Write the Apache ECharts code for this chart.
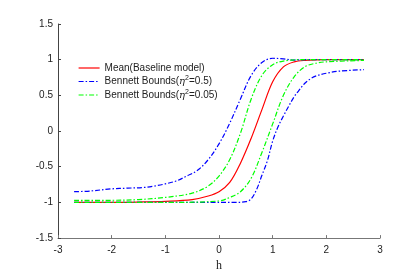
<!DOCTYPE html>
<html>
<head>
<meta charset="utf-8">
<script src="https://cdn.jsdelivr.net/npm/echarts@6/dist/echarts.min.js"></script>
<style>
html,body{margin:0;padding:0;background:#fff;}
#chart{width:415px;height:277px;}
</style>
</head>
<body>
<div id="chart"></div>
<script>
// ---- data ----
var seriesNames = ['Mean(Baseline model)', 'Bennett Bounds(η2=0.5)', 'Bennett Bounds(η2=0.05)'];

var meanX = [-2.7, -2, -1.5, -1, -0.5, -0.2, 0, 0.2, 0.4, 0.6, 0.8, 1.0, 1.2, 1.4, 1.6, 2, 2.7];
var meanY = [-1.0, -1.0, -0.995, -0.985, -0.96, -0.91, -0.85, -0.72, -0.45, -0.1, 0.3, 0.69, 0.9, 0.97, 0.99, 1.0, 1.0];

var blueUpX = [-2.7, -2.4, -2.0, -1.7, -1.4, -1.2, -1.0, -0.8, -0.6, -0.4, -0.2, 0, 0.2, 0.4, 0.6, 0.8, 1.0, 1.2, 1.4, 1.6, 2.0, 2.7];
var blueUpY = [-0.85, -0.84, -0.81, -0.80, -0.79, -0.77, -0.74, -0.70, -0.63, -0.55, -0.40, -0.18, 0.11, 0.45, 0.78, 0.96, 1.02, 1.01, 0.995, 1.0, 1.0, 1.0];

var blueLowX = [-2.7, -1, 0.3, 0.5, 0.6, 0.7, 0.8, 0.9, 1.0, 1.1, 1.2, 1.3, 1.4, 1.5, 1.6, 1.7, 1.8, 2.0, 2.25, 2.7];
var blueLowY = [-1.0, -1.0, -1.0, -0.99, -0.95, -0.82, -0.62, -0.42, -0.14, 0.06, 0.21, 0.35, 0.48, 0.58, 0.67, 0.73, 0.77, 0.81, 0.84, 0.86];

var greenUpX = [-2.7, -2, -1.5, -1, -0.5, -0.2, 0, 0.2, 0.4, 0.6, 0.8, 1.0, 1.2, 1.5, 2.7];
var greenUpY = [-0.97, -0.97, -0.96, -0.93, -0.87, -0.77, -0.63, -0.4, -0.03, 0.45, 0.78, 0.93, 0.98, 1.0, 1.0];

var greenLowX = [-2.7, -1, 0, 0.2, 0.4, 0.6, 0.8, 1.0, 1.2, 1.4, 1.6, 1.8, 2.0, 2.7];
var greenLowY = [-1.0, -1.0, -0.98, -0.93, -0.85, -0.66, -0.3, 0.1, 0.5, 0.76, 0.9, 0.95, 0.97, 0.99];

var xTicks = { min: -3, max: 3, interval: 1 };
var yTicks = { min: -1.5, max: 1.5, interval: 0.5 };

function pairs(xs, ys) { return xs.map(function (x, i) { return [x, ys[i]]; }); }

var chart = echarts.init(document.getElementById('chart'), null, { renderer: 'canvas' });

var dashDot = [5, 2, 1.5, 2];
function lineSeries(name, data, color, type) {
  return {
    name: name, type: 'line', data: data, smooth: 0.35, showSymbol: false, symbol: 'none',
    lineStyle: { color: color, width: 1.2, type: type }, itemStyle: { color: color },
    z: 2
  };
}

var option = {
  animation: false,
  backgroundColor: '#fff',
  grid: { left: 58, right: 35, top: 24, bottom: 35 },
  legend: {
    orient: 'vertical', left: 73, top: 58, itemWidth: 21, itemHeight: 10, itemGap: 2,
    data: seriesNames,
    itemStyle: { opacity: 0 },
    lineStyle: { width: 1.2 },
    formatter: function (n) {
      if (n === seriesNames[1]) return 'Bennett Bounds({eta|η}{sup|2}=0.5)';
      if (n === seriesNames[2]) return 'Bennett Bounds({eta|η}{sup|2}=0.05)';
      return n;
    },
    textStyle: {
      fontFamily: 'Liberation Sans', fontSize: 10, color: '#222',
      rich: {
        eta: { fontFamily: 'DejaVu Serif', fontStyle: 'italic', fontSize: 10, color: '#222' },
        sup: { fontFamily: 'Liberation Sans', fontSize: 7, color: '#222', padding: [0, 0, 6, 0] }
      }
    }
  },
  xAxis: {
    type: 'value', min: xTicks.min, max: xTicks.max, interval: xTicks.interval,
    name: 'h', nameLocation: 'middle', nameGap: 20,
    nameTextStyle: { fontFamily: 'Liberation Serif', fontSize: 12, color: '#222' },
    axisLine: { onZero: false, lineStyle: { color: '#777', width: 1 } },
    axisTick: { inside: true, length: 3, lineStyle: { color: '#777' } },
    axisLabel: { fontFamily: 'Liberation Sans', fontSize: 10, color: '#222', margin: 7 },
    splitLine: { show: false }
  },
  yAxis: {
    type: 'value', min: yTicks.min, max: yTicks.max, interval: yTicks.interval,
    axisLine: { show: true, onZero: false, lineStyle: { color: '#444', width: 1 } },
    axisTick: { show: true, inside: true, length: 3, lineStyle: { color: '#444' } },
    axisLabel: { fontFamily: 'Liberation Sans', fontSize: 10, color: '#222', margin: 5 },
    splitLine: { show: false }
  },
  series: [
    lineSeries(seriesNames[0], pairs(meanX, meanY), '#ff0000', 'solid'),
    lineSeries(seriesNames[1], pairs(blueUpX, blueUpY), '#0000ff', dashDot),
    lineSeries(seriesNames[2], pairs(greenUpX, greenUpY), '#00ff00', dashDot),
    lineSeries(seriesNames[1], pairs(blueLowX, blueLowY), '#0000ff', dashDot),
    lineSeries(seriesNames[2], pairs(greenLowX, greenLowY), '#00ff00', dashDot)
  ]
};
chart.setOption(option);
</script>
</body>
</html>
